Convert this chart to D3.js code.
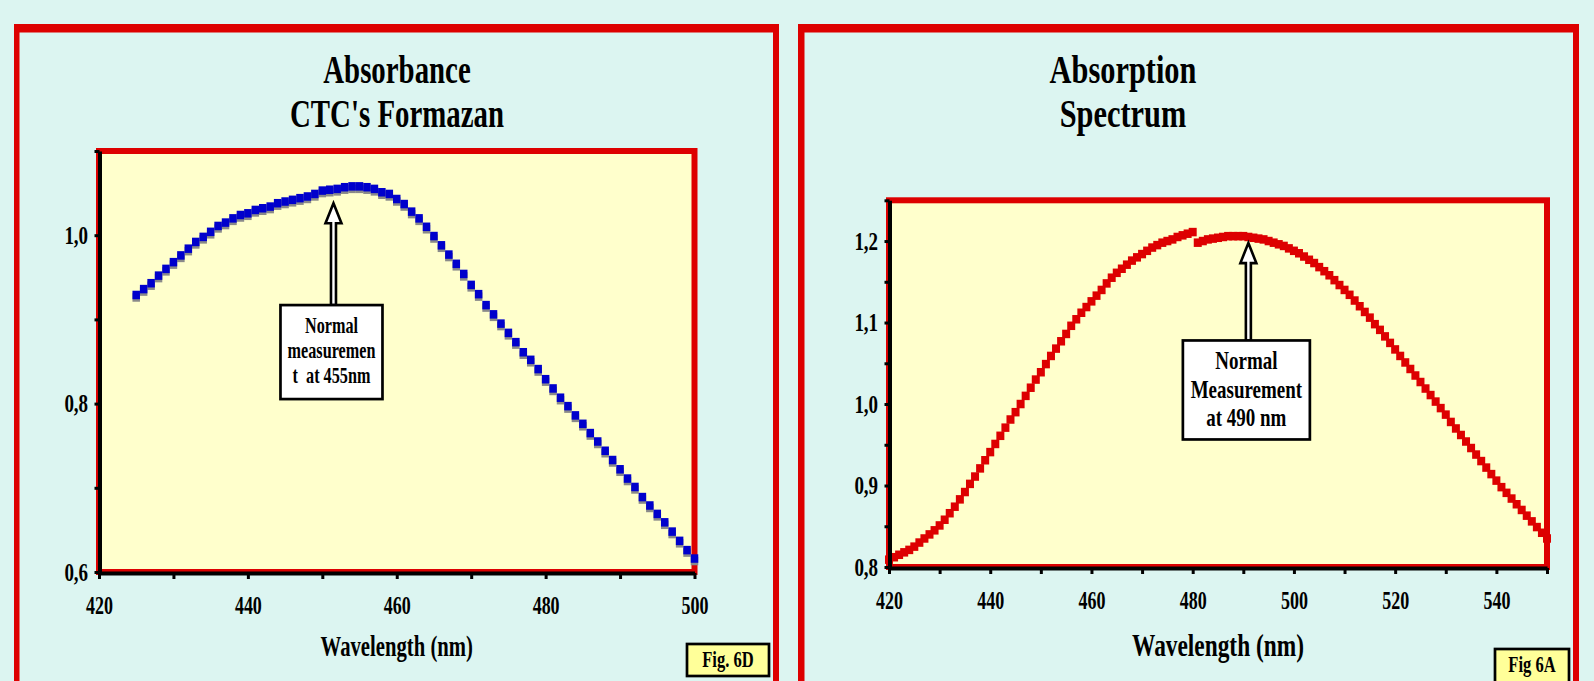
<!DOCTYPE html>
<html>
<head>
<meta charset="utf-8">
<script src="https://cdn.jsdelivr.net/npm/d3@7"></script>
<style>
  html, body { margin: 0; padding: 0; background: #dcf5f1; }
  svg { display: block; }
</style>
</head>
<body>
<svg id="chart" width="1594" height="681"></svg>
<script>
/**
 * DATA (one reading per nm)
 */
const fig6dStartNm = 425;
const fig6dAbsorbance = [
  0.929, 0.936, 0.943, 0.952, 0.960, 0.968, 0.976, 0.984, 0.992, 0.998,
  1.004, 1.011, 1.015, 1.020, 1.024, 1.026, 1.030, 1.032, 1.034, 1.038,
  1.040, 1.042, 1.044, 1.046, 1.049, 1.053, 1.054, 1.055, 1.057, 1.058,
  1.058, 1.057, 1.055, 1.051, 1.049, 1.043, 1.037, 1.028, 1.020, 1.010,
  0.999, 0.988, 0.977, 0.966, 0.954, 0.941, 0.930, 0.917, 0.906, 0.895,
  0.884, 0.873, 0.861, 0.852, 0.841, 0.829, 0.818, 0.807, 0.797, 0.786,
  0.776, 0.765, 0.755, 0.744, 0.733, 0.722, 0.711, 0.701, 0.689, 0.679,
  0.669, 0.659, 0.648, 0.637, 0.626, 0.616
];

const fig6aStartNm = 420;
const fig6aAbsorbance = [
  0.809, 0.812, 0.815, 0.818, 0.821, 0.825, 0.830, 0.835, 0.840, 0.845,
  0.851, 0.858, 0.866, 0.874, 0.883, 0.892, 0.902, 0.911, 0.921, 0.931,
  0.941, 0.951, 0.961, 0.971, 0.981, 0.990, 1.000, 1.010, 1.020, 1.030,
  1.039, 1.049, 1.059, 1.068, 1.077, 1.086, 1.096, 1.104, 1.112, 1.119,
  1.126, 1.133, 1.140, 1.148, 1.155, 1.161, 1.166, 1.171, 1.176, 1.180,
  1.184, 1.188, 1.192, 1.195, 1.198, 1.200, 1.202, 1.205, 1.207, 1.209,
  1.211, 1.198, 1.200, 1.202, 1.203, 1.204, 1.205, 1.206, 1.206, 1.206,
  1.206, 1.205, 1.204, 1.203, 1.202, 1.200, 1.198, 1.196, 1.194, 1.191,
  1.188, 1.185, 1.181, 1.177, 1.173, 1.168, 1.163, 1.158, 1.152, 1.146,
  1.140, 1.134, 1.127, 1.120, 1.113, 1.106, 1.098, 1.091, 1.083, 1.075,
  1.067, 1.059, 1.051, 1.043, 1.035, 1.027, 1.019, 1.011, 1.003, 0.995,
  0.987, 0.978, 0.970, 0.962, 0.954, 0.946, 0.938, 0.930, 0.922, 0.914,
  0.906, 0.898, 0.891, 0.884, 0.877, 0.870, 0.863, 0.856, 0.849, 0.842,
  0.835
];

const fig6dXDomain = [420, 500];
const fig6dYDomain = [0.6, 1.1];
const fig6dXLabels = [420, 440, 460, 480, 500];
const fig6dXMinor = [430, 450, 470, 490];
const fig6dYLabels = [0.6, 0.8, 1.0];
const fig6dYMinor = [0.7, 0.9, 1.1];

const fig6aXDomain = [420, 550];
const fig6aYDomain = [0.8, 1.25];
const fig6aXLabels = [420, 440, 460, 480, 500, 520, 540];
const fig6aXMinor = [430, 450, 470, 490, 510, 530, 550];
const fig6aYLabels = [0.8, 0.9, 1.0, 1.1, 1.2];
const fig6aYMinor = [0.85, 0.95, 1.05, 1.15, 1.25];

const fig6dTitle = ['Absorbance', "CTC's Formazan"];
const fig6aTitle = ['Absorption', 'Spectrum'];
const xAxisTitle = 'Wavelength (nm)';

// arrow: wavelength, value at tip, value at foot (box top)
const fig6dNote = { nm: 451.5, tip: 1.038, foot: 0.917, lines: ['Normal', 'measuremen', 't  at 455nm'] };
const fig6aNote = { nm: 491, tip: 1.1975, foot: 1.078, lines: ['Normal', 'Measurement', 'at 490 nm'] };

const fig6dTag = 'Fig. 6D';
const fig6aTag = 'Fig 6A';

/**
 * STYLE
 */
const RED = '#dd0000';
const FONT = "'Liberation Serif', 'Times New Roman', serif";
const commaFormat = d3.formatLocale({ decimal: ',', thousands: '.', grouping: [3], currency: ['', ''] }).format('.1f');

const svg = d3.select('#chart');

svg.append('rect').attr('width', 1594).attr('height', 681).attr('fill', '#dcf5f1');

function condensed(g, x, y, str, size, sx, anchor) {
  return g
    .append('text')
    .attr('transform', `translate(${x},${y}) scale(${sx},1)`)
    .attr('text-anchor', anchor || 'middle')
    .attr('font-family', FONT)
    .attr('font-weight', 'bold')
    .attr('font-size', size)
    .attr('fill', '#000')
    .style('white-space', 'pre')
    .text(str);
}

function drawPanel(o) {
  const g = svg.append('g');

  /**
   * OUTER FRAME
   */
  g.append('rect').attr('x', o.frame.x0).attr('y', 24).attr('width', o.frame.x1 - o.frame.x0).attr('height', 8.5).attr('fill', RED);
  g.append('rect').attr('x', o.frame.x0).attr('y', 24).attr('width', o.frame.left).attr('height', 700).attr('fill', RED);
  g.append('rect').attr('x', o.frame.x1 - 6).attr('y', 24).attr('width', 6).attr('height', 700).attr('fill', RED);

  /**
   * TITLE
   */
  o.title.forEach((t, i) => condensed(g, o.titleX, 83 + i * 43.5, t, o.titleSize, o.titleSx));

  /**
   * SCALES
   */
  const x = d3.scaleLinear().domain(o.xDomain).range([o.plot.x0, o.plot.x1]);
  const y = d3.scaleLinear().domain(o.yDomain).range([o.plot.y1, o.plot.y0]);

  // plot area
  g.append('rect')
    .attr('x', o.plot.x0)
    .attr('y', o.plot.y0)
    .attr('width', o.plot.x1 - o.plot.x0)
    .attr('height', o.plot.y1 - o.plot.y0)
    .attr('fill', '#ffffcc')
    .attr('stroke', RED)
    .attr('stroke-width', 6);

  /**
   * MARKERS
   */
  const pts = o.values.map((v, i) => ({ nm: o.startNm + i, v: v }));
  const mw = o.marker.w;
  const mh = o.marker.h;

  if (o.marker.shadow) {
    g.append('g')
      .selectAll('rect')
      .data(pts)
      .join('rect')
      .attr('x', (d) => x(d.nm) - mw / 2)
      .attr('y', (d) => y(d.v) - mh / 2 + 2.5)
      .attr('width', mw)
      .attr('height', mh)
      .attr('fill', o.marker.shadow);
  }

  g.append('g')
    .selectAll('rect')
    .data(pts)
    .join('rect')
    .attr('x', (d) => x(d.nm) - mw / 2)
    .attr('y', (d) => y(d.v) - mh / 2)
    .attr('width', mw)
    .attr('height', mh)
    .attr('fill', o.marker.color);

  /**
   * AXES
   */
  const xMajor = new Set(o.xLabels);
  const xAxis = d3
    .axisBottom(x)
    .tickValues(o.xLabels.concat(o.xMinor).sort((a, b) => a - b))
    .tickSize(6)
    .tickSizeOuter(0)
    .tickFormat((d) => (xMajor.has(d) ? d : ''));

  const gx = g.append('g').attr('transform', `translate(0,${o.plot.y1 + 1})`).call(xAxis);
  gx.attr('font-family', FONT).attr('font-size', 25).attr('font-weight', 'bold');
  gx.select('.domain').attr('stroke', '#000').attr('stroke-width', 4);
  gx.selectAll('.tick line').attr('stroke', '#000').attr('stroke-width', 3);
  gx.selectAll('.tick text')
    .attr('fill', '#000')
    .attr('y', 41)
    .attr('dy', 0)
    .attr('transform', 'scale(0.72,1)');

  const yMajor = new Set(o.yLabels);
  const yAxis = d3
    .axisLeft(y)
    .tickValues(o.yLabels.concat(o.yMinor))
    .tickSize(5)
    .tickSizeOuter(0)
    .tickFormat((d) => (yMajor.has(d) ? commaFormat(d) : ''));

  const gy = g.append('g').attr('transform', `translate(${o.plot.x0 + 0.5},0)`).call(yAxis);
  gy.attr('font-family', FONT).attr('font-size', 25).attr('font-weight', 'bold');
  gy.select('.domain').attr('stroke', '#000').attr('stroke-width', 4);
  gy.selectAll('.tick line').attr('stroke', '#000').attr('stroke-width', 3);
  gy.selectAll('.tick text')
    .attr('fill', '#000')
    .attr('x', -15)
    .attr('dy', '0.33em')
    .attr('transform', 'scale(0.76,1)');

  condensed(g, (o.plot.x0 + o.plot.x1) / 2, 656, xAxisTitle, o.axisTitleSize, o.axisTitleSx);

  /**
   * ANNOTATION ARROW + BOX
   */
  const ax = x(o.note.nm);
  const tipY = y(o.note.tip);
  const footY = y(o.note.foot);
  const arrow = [
    [ax, tipY],
    [ax + 8, tipY + 20],
    [ax + 2.5, tipY + 20],
    [ax + 2.5, footY],
    [ax - 2.5, footY],
    [ax - 2.5, tipY + 20],
    [ax - 8, tipY + 20]
  ];
  g.append('path')
    .attr('d', d3.line()(arrow) + 'Z')
    .attr('fill', '#fff')
    .attr('stroke', '#000')
    .attr('stroke-width', 2.6)
    .attr('stroke-linejoin', 'miter');

  const bx = ax - 2 - o.box.w / 2;
  g.append('rect')
    .attr('x', bx)
    .attr('y', footY)
    .attr('width', o.box.w)
    .attr('height', o.box.h)
    .attr('fill', '#fff')
    .attr('stroke', '#000')
    .attr('stroke-width', 2.7);

  o.note.lines.forEach((t, i) =>
    condensed(g, ax - 2, footY + o.box.first + i * o.box.lead, t, o.box.size, o.box.sx)
  );

  /**
   * FIG TAG
   */
  g.append('rect')
    .attr('x', o.tag.x)
    .attr('y', o.tag.y)
    .attr('width', o.tag.w)
    .attr('height', o.tag.h)
    .attr('fill', '#ffff99')
    .attr('stroke', '#000')
    .attr('stroke-width', 2.7);
  condensed(g, o.tag.x + o.tag.w / 2, o.tag.y + 23, o.tag.text, 23, 0.72);
}

drawPanel({
  frame: { x0: 14, x1: 779, left: 5.5 },
  title: fig6dTitle,
  titleX: 397,
  titleSize: 39,
  titleSx: 0.74,
  plot: { x0: 99, x1: 694.5, y0: 151, y1: 572 },
  xDomain: fig6dXDomain,
  yDomain: fig6dYDomain,
  xLabels: fig6dXLabels,
  xMinor: fig6dXMinor,
  yLabels: fig6dYLabels,
  yMinor: fig6dYMinor,
  startNm: fig6dStartNm,
  values: fig6dAbsorbance,
  marker: { w: 7.5, h: 8.5, color: '#0000cc', shadow: '#8a8a8a' },
  axisTitleSize: 30,
  axisTitleSx: 0.69,
  note: fig6dNote,
  box: { w: 102, h: 94, first: 27.7, lead: 25.3, size: 22.5, sx: 0.72 },
  tag: { x: 687, y: 644, w: 82, h: 32, text: fig6dTag }
});

drawPanel({
  frame: { x0: 798, x1: 1579, left: 6.5 },
  title: fig6aTitle,
  titleX: 1123,
  titleSize: 40,
  titleSx: 0.76,
  plot: { x0: 889, x1: 1547, y0: 200.3, y1: 567 },
  xDomain: fig6aXDomain,
  yDomain: fig6aYDomain,
  xLabels: fig6aXLabels,
  xMinor: fig6aXMinor,
  yLabels: fig6aYLabels,
  yMinor: fig6aYMinor,
  startNm: fig6aStartNm,
  values: fig6aAbsorbance,
  marker: { w: 8, h: 8.5, color: RED, shadow: null },
  axisTitleSize: 32,
  axisTitleSx: 0.73,
  note: fig6aNote,
  box: { w: 127, h: 99, first: 28.8, lead: 28.4, size: 26, sx: 0.73 },
  tag: { x: 1495, y: 649, w: 74, h: 36, text: fig6aTag }
});
</script>
</body>
</html>
